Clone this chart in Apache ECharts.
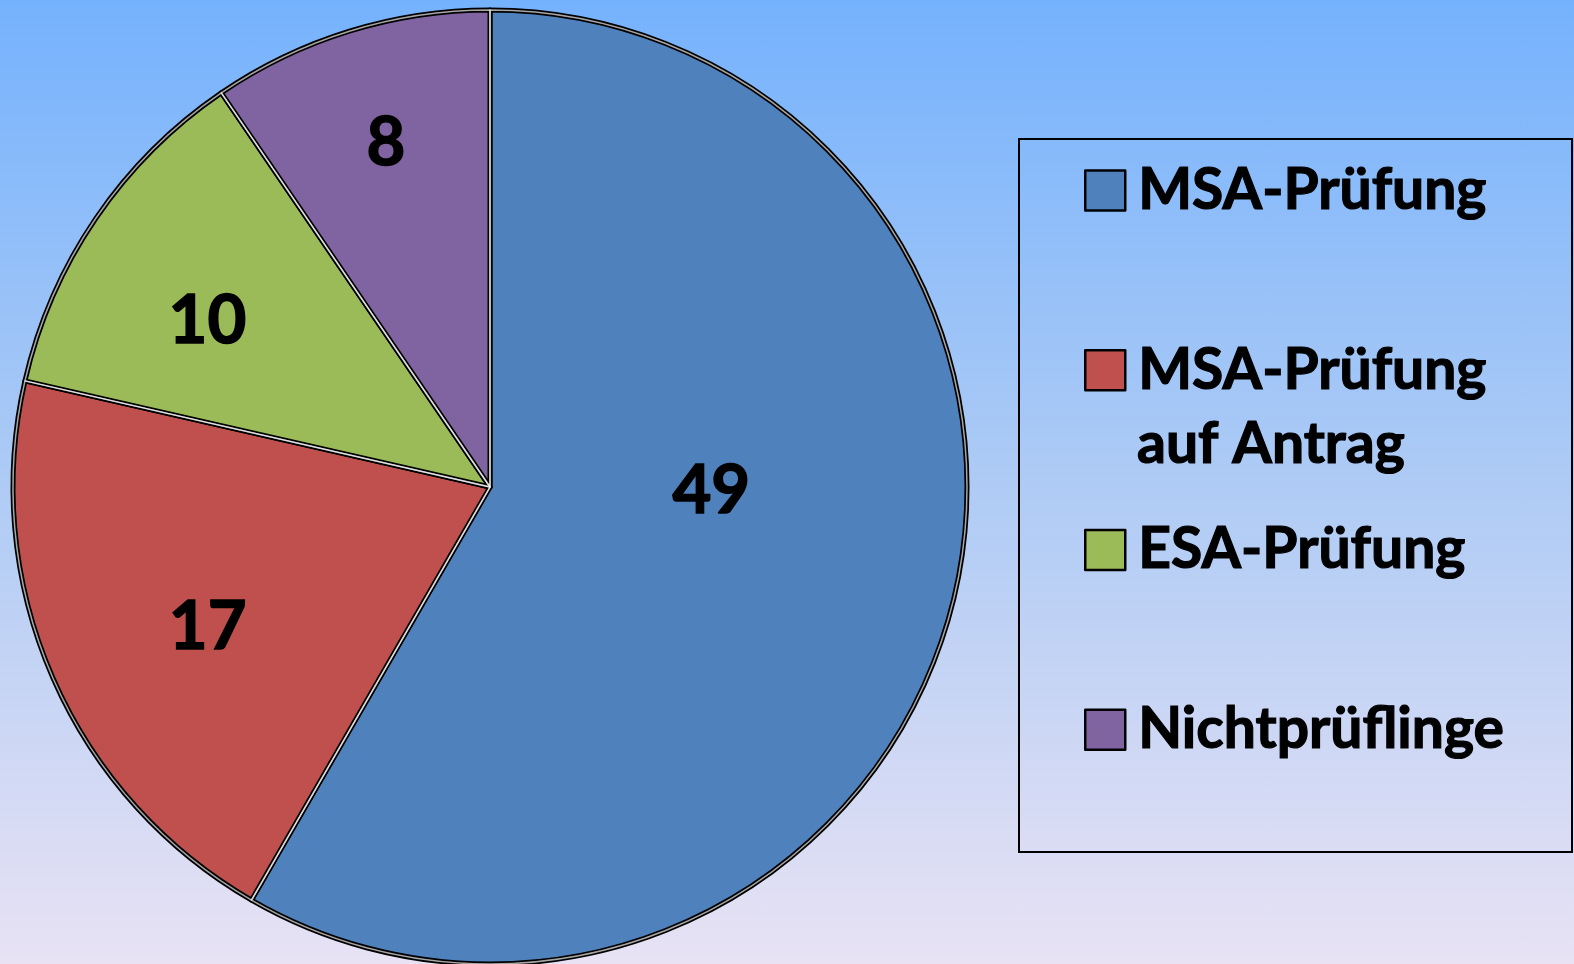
<!DOCTYPE html>
<html>
<head>
<meta charset="utf-8">
<script src="https://cdn.jsdelivr.net/npm/echarts@6/dist/echarts.min.js"></script>
<style>
html,body{margin:0;padding:0;}
body{background:linear-gradient(to bottom,#75b2fd 0%,#aecbf5 50%,#e8e2f4 100%);}
#c{width:1574px;height:964px;}
</style>
</head>
<body>
<div id="c"></div>
<script>
const categories = ['MSA-Prüfung', 'MSA-Prüfung auf Antrag', 'ESA-Prüfung', 'Nichtprüflinge'];
const values = [49, 17, 10, 8];
const colors = ['#4f81bd', '#c0504d', '#9bbb59', '#8064a2'];
const labelOffsets = [[-12, -58], [-61, 44], [-83, -30], [-33, -113]];

const FONT = 'Lato';
const chart = echarts.init(document.getElementById('c'), null, {renderer: 'canvas'});

const dataA = categories.map((n, i) => ({name: n, value: values[i], itemStyle: {color: colors[i]}}));
const dataB = categories.map((n, i) => ({
  name: n, value: values[i],
  label: {offset: labelOffsets[i]}
}));

chart.setOption({
  backgroundColor: 'transparent',
  animation: false,
  legend: {
    orient: 'vertical',
    left: 1084,
    top: 161.5,
    padding: 0,
    itemGap: 121.5,
    itemWidth: 40,
    itemHeight: 40,
    icon: 'rect',
    selectedMode: false,
    data: categories,
    formatter: function (name) { return name === categories[1] ? 'MSA-Prüfung' : name; },
    itemStyle: {borderColor: '#000', borderWidth: 2.5},
    textStyle: {fontFamily: FONT, fontWeight: 'bold', fontSize: 57, color: '#000', padding: [0, 0, 0, 8],
      textBorderColor: '#000', textBorderWidth: 1.2}
  },
  graphic: [
    {
      type: 'rect', silent: true, z: -1,
      shape: {x: 1019, y: 139, width: 553, height: 713},
      style: {fill: 'none', stroke: '#000', lineWidth: 2}
    },
    {
      type: 'text', silent: true,
      style: {x: 1137, y: 445, text: 'auf Antrag', fill: '#000', font: 'bold 57px ' + FONT,
        verticalAlign: 'middle', align: 'left', stroke: '#000', lineWidth: 1.2}
    }
  ],
  series: [
    {
      type: 'pie',
      center: [490, 487],
      radius: [0, 477],
      startAngle: 90,
      clockwise: true,
      silent: true,
      label: {show: false},
      labelLine: {show: false},
      emphasis: {disabled: true},
      itemStyle: {borderColor: '#000', borderWidth: 5},
      data: dataA
    },
    {
      type: 'pie',
      center: [490, 487],
      radius: [0, 477],
      startAngle: 90,
      clockwise: true,
      silent: true,
      legendHoverLink: false,
      emphasis: {disabled: true},
      itemStyle: {color: 'rgba(0,0,0,0)', borderColor: 'rgba(255,255,255,0.65)', borderWidth: 1.5},
      label: {
        show: true, position: 'inside', formatter: '{c}',
        fontFamily: FONT, fontWeight: 'bold', fontSize: 67, color: '#000',
        textBorderColor: '#000', textBorderWidth: 1.5
      },
      labelLine: {show: false},
      data: dataB
    }
  ]
});
</script>
</body>
</html>
